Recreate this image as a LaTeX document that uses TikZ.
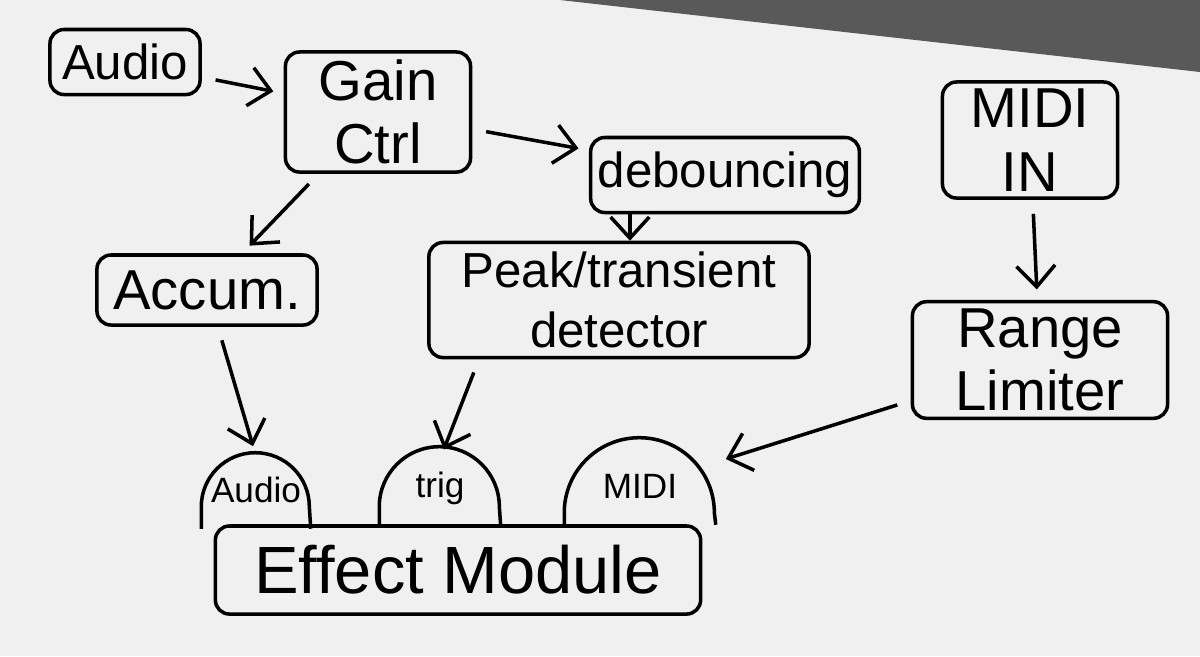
\documentclass[tikz,border=0pt]{standalone}
\usepackage{fontspec}
\setmainfont{Liberation Sans}
\usetikzlibrary{arrows.meta}

\begin{document}
\begin{tikzpicture}[x=0.01cm, y=-0.01cm, >={Straight Barb[length=6pt, width=11pt]},
    box/.style={draw, line width=1pt, rounded corners=4pt, align=center, inner sep=2pt},
    port/.style={inner sep=0pt, minimum height=0.76cm, font=\fontsize{10}{12}\selectfont},
    arch/.style={line width=1pt},
    flow/.style={->, line width=1pt, shorten <=4pt, shorten >=3pt}]
    \useasboundingbox (0,0) rectangle (1200,656);
    \fill[gray!12] (0,0) rectangle (1200,656);
    \fill[black!65] (560,0) -- (1200,0) -- (1200,72) -- cycle;
    % sources
    \node[box, minimum width=1.5cm, minimum height=0.65cm, font=\fontsize{14}{16}\selectfont] (audio) at (125,62) {Audio};
    \node[box, minimum width=1.85cm, minimum height=1.2cm, font=\fontsize{16}{18}\selectfont] (gain) at (378,112) {Gain\\Ctrl};
    \node[box, minimum width=2.6cm, minimum height=0.75cm, font=\fontsize{14}{16}\selectfont] (deb) at (725,175) {debouncing};
    \node[box, minimum width=2.2cm, minimum height=0.7cm, font=\fontsize{16}{18}\selectfont] (accum) at (207,290) {Accum.};
    \node[box, minimum width=3.8cm, minimum height=1.15cm, font=\fontsize{14}{17}\selectfont] (peak) at (619,300) {Peak/transient\\detector};
    \node[box, minimum width=1.75cm, minimum height=1.1cm, font=\fontsize{16}{18}\selectfont] (midi) at (1030,140) {MIDI\\IN};
    \node[box, minimum width=2.55cm, minimum height=1.15cm, font=\fontsize{16}{18}\selectfont] (range) at (1040,360) {Range\\Limiter};
    % effect module and its inputs
    \node[box, minimum width=4.85cm, minimum height=0.88cm, font=\fontsize{19}{21}\selectfont] (fx) at (458,570) {Effect Module};
    \node[port, minimum width=1.08cm] (pa) at (256,490) {Audio};
    \node[port, minimum width=1.2cm] (pt) at (440,488) {trig};
    \node[port, minimum width=1.5cm] (pm) at (640,486) {MIDI};
    \foreach \p/\r/\l in {pa/0.54cm/0.22cm, pt/0.6cm/0.2cm, pm/0.75cm/0.12cm}
        \draw[arch] (\p.south west) -- ([yshift=\l]\p.south west) arc[start angle=180, end angle=0, radius=\r] -- (\p.south east);
    % connections
    \draw[flow] (audio) -- (gain);
    \draw[flow] (gain) -- (deb);
    \draw[flow] (gain) -- (accum);
    \draw[->, line width=1pt] ([xshift=-0.95cm]deb.south) -- ([xshift=-0.95cm]deb.south |- peak.north);
    \draw[flow] (accum) -- ([yshift=-0.05cm]pa.north);
    \draw[flow] ([xshift=-1.4cm]peak.south) -- ([yshift=-0.1cm]pt.north);
    \draw[flow] (midi) -- (range);
    \draw[flow] (range) -- (pm);
\end{tikzpicture}
\end{document}
